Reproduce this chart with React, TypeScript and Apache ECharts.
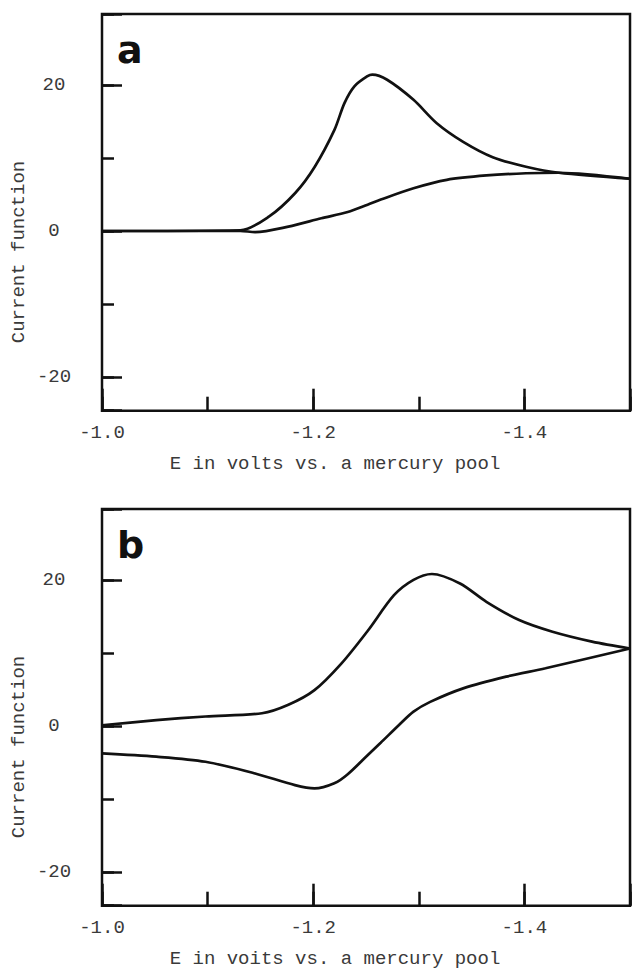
import React, { useEffect, useRef } from 'react';
import * as echarts from 'echarts';

// Panel a: current function vs potential (E in volts)
const aUpperE = [-1.0, -1.131, -1.158, -1.183, -1.2015, -1.22, -1.2296, -1.239, -1.2515, -1.256, -1.27, -1.295, -1.317, -1.342, -1.37, -1.4015, -1.4326, -1.5];
const aUpperI = [0, 0.1, 1.96, 5.2, 8.8, 13.8, 17.5, 19.8, 21.2, 21.4, 20.7, 17.95, 14.75, 12.2, 10.1, 8.8, 7.97, 7.15];
const aLowerE = [-1.0, -1.131, -1.145, -1.1765, -1.2077, -1.2327, -1.2515, -1.264, -1.295, -1.3265, -1.364, -1.4015, -1.4326, -1.5];
const aLowerI = [0, 0, -0.15, 0.6, 1.74, 2.6, 3.6, 4.3, 5.85, 7.0, 7.6, 7.9, 7.97, 7.15];

// Panel b
const bUpperE = [-1.0, -1.0515, -1.098, -1.1515, -1.1765, -1.2012, -1.2264, -1.2515, -1.2765, -1.295, -1.3124, -1.339, -1.364, -1.395, -1.4266, -1.464, -1.5];
const bUpperI = [0.1, 0.8, 1.3, 1.74, 2.9, 4.9, 8.5, 13.0, 17.9, 20.0, 20.8, 19.5, 17.0, 14.5, 12.9, 11.55, 10.6];
const bLowerE = [-1.0, -1.0515, -1.098, -1.145, -1.1827, -1.2012, -1.22, -1.2327, -1.2515, -1.2639, -1.281, -1.295, -1.3108, -1.342, -1.3827, -1.42, -1.5];
const bLowerI = [-3.75, -4.2, -4.9, -6.5, -8.1, -8.55, -7.85, -6.6, -4.0, -2.3, 0.1, 1.96, 3.3, 5.15, 6.75, 7.9, 10.6];

const xTickLabels = ['-1.0', '-1.2', '-1.4'];
const yTickLabels = ['20', '0', '-20'];
const panelLetters = ['a', 'b'];
const xTitle = 'E in volts vs. a mercury pool';
const xTitleB = 'E in voits vs. a mercury pool';
const yTitle = 'Current function';

const X_MIN = -1.5;
const X_MAX = -1.0;
const Y_MIN = -24.6;
const Y_MAX = 29.7;

const FONT = '"Liberation Mono", "DejaVu Sans Mono", monospace';
const TEXT_COLOR = '#3a3a3a';
const INK = '#111';

const pairs = (xs: number[], ys: number[]) => xs.map((x, i) => [x, ys[i]]);

export default function App() {
  const ref = useRef<HTMLDivElement>(null);

  useEffect(() => {
    if (!ref.current) return;
    const chart = echarts.init(ref.current, null, { renderer: 'svg' });

    const panels = [
      { top: 14, height: 396.7, width: 533, title: xTitle, curves: [[aUpperE, aUpperI], [aLowerE, aLowerI]] },
      { top: 509, height: 396.7, width: 529, title: xTitleB, curves: [[bUpperE, bUpperI], [bLowerE, bLowerI]] },
    ];

    const grid: any[] = [];
    const xAxis: any[] = [];
    const yAxis: any[] = [];
    const series: any[] = [];
    const graphic: any[] = [];

    panels.forEach((p, gi) => {
      grid.push({
        left: 102,
        top: p.top,
        width: p.width,
        height: p.height,
        show: true,
        borderColor: INK,
        borderWidth: 2.5,
        backgroundColor: 'transparent',
      });
      // minor x ticks every 0.1
      xAxis.push({
        type: 'value',
        gridIndex: gi,
        position: 'bottom',
        inverse: true,
        min: X_MIN,
        max: X_MAX,
        interval: 0.1,
        axisLine: { show: false, onZero: false },
        axisTick: { show: true, inside: true, length: 14, lineStyle: { color: INK, width: 2.5 } },
        axisLabel: { show: false },
        splitLine: { show: false },
      });
      // major x ticks + labels
      xAxis.push({
        type: 'value',
        gridIndex: gi,
        position: 'bottom',
        inverse: true,
        min: X_MIN,
        max: X_MAX,
        splitNumber: 3,
        axisLine: { show: false, onZero: false },
        axisTick: { show: true, inside: true, length: 22, lineStyle: { color: INK, width: 2.5 } },
        axisLabel: {
          show: true,
          margin: 13,
          fontFamily: FONT,
          fontSize: 19,
          color: TEXT_COLOR,
          formatter: (v: number) => xTickLabels.find((s) => Math.abs(parseFloat(s) - v) < 1e-6) || '',
        },
        splitLine: { show: false },
        name: p.title,
        nameLocation: 'middle',
        nameGap: 44,
        nameTextStyle: { fontFamily: FONT, fontSize: 19, color: TEXT_COLOR, padding: [0, 62, 0, 0] },
      });
      // minor y ticks every 10
      yAxis.push({
        type: 'value',
        gridIndex: gi,
        position: 'left',
        min: Y_MIN,
        max: Y_MAX,
        splitNumber: 5,
        axisLine: { show: false, onZero: false },
        axisTick: { show: true, inside: true, length: 12, lineStyle: { color: INK, width: 2.5 } },
        axisLabel: { show: false },
        splitLine: { show: false },
      });
      // major y ticks + labels
      yAxis.push({
        type: 'value',
        gridIndex: gi,
        position: 'left',
        min: Y_MIN,
        max: Y_MAX,
        splitNumber: 3,
        axisLine: { show: false, onZero: false },
        axisTick: { show: true, inside: true, length: 20, lineStyle: { color: INK, width: 2.5 } },
        axisLabel: {
          show: true,
          margin: 48,
          align: 'center',
          fontFamily: FONT,
          fontSize: 19,
          color: TEXT_COLOR,
          formatter: (v: number) => yTickLabels.find((s) => Math.abs(parseFloat(s) - v) < 1e-6) || '',
        },
        splitLine: { show: false },
      });

      p.curves.forEach(([xs, ys]) => {
        series.push({
          type: 'line',
          xAxisIndex: gi * 2 + 1,
          yAxisIndex: gi * 2 + 1,
          data: pairs(xs as number[], ys as number[]),
          showSymbol: false,
          smooth: 0.3,
          lineStyle: { color: INK, width: 2.7 },
          clip: true,
        });
      });

      graphic.push({
        type: 'text',
        x: 18.5,
        y: p.top + 238,
        rotation: Math.PI / 2,
        style: {
          text: yTitle,
          font: `19px ${FONT}`,
          fill: TEXT_COLOR,
          align: 'center',
          verticalAlign: 'middle',
        },
      });
      graphic.push({
        type: 'text',
        x: 117,
        y: p.top + 36,
        style: {
          text: panelLetters[gi],
          font: `bold 38px "DejaVu Sans", sans-serif`,
          fill: INK,
          align: 'left',
          verticalAlign: 'middle',
        },
      });
    });

    chart.setOption({
      animation: false,
      backgroundColor: '#fff',
      grid,
      xAxis,
      yAxis,
      series,
      graphic,
    });

    return () => chart.dispose();
  }, []);

  return (
    <div
      ref={ref}
      style={{ position: 'absolute', left: 0, top: 0, width: 633, height: 978, background: '#fff' }}
    />
  );
}
